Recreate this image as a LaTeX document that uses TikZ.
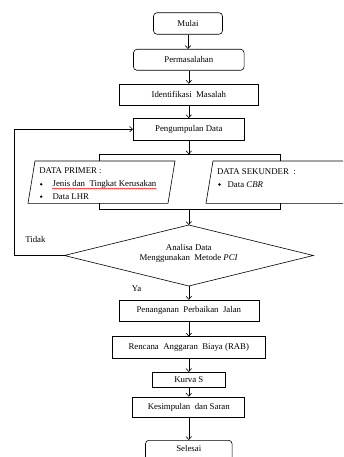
\documentclass[tikz,border=0pt]{standalone}
\usepackage{fontspec}
\setmainfont{Liberation Serif}
\usetikzlibrary{arrows.meta,decorations.pathmorphing}
\newcommand{\dsp}{\hspace{0.5em}}
\begin{document}
\begin{tikzpicture}[x=1pt,y=-1pt,
  line width=0.6pt,
  every node/.style={font=\fontsize{8.8}{10.5}\selectfont, inner sep=0pt},
  box/.style={draw, rectangle, minimum height=21.5pt},
  rbox/.style={box, rounded corners=3.5pt},
  arr/.style={-{Straight Barb[length=3pt,width=5.5pt]}},
  lbl/.style={anchor=west},
  dot/.style={circle, fill, minimum size=2.6pt}
]
\useasboundingbox (0,0) rectangle (343,457);
\clip (0,0) rectangle (343,457);
\fill[white] (0,0) rectangle (343,457);

% main boxes
\node[rbox, minimum width=69pt] (mulai) at (188,23.5) {Mulai};
\node[rbox, minimum width=110.6pt, minimum height=21pt] (perm) at (188.8,59.8) {Permasalahan};
\node[box, minimum width=139pt] (ident) at (188.8,94.7) {Identifikasi\dsp Masalah};
\node[box, minimum width=111pt] (peng) at (188.8,129.2) {Pengumpulan Data};

% parallelograms
\coordinate (pl1) at (35,161); \coordinate (pl2) at (175,161);
\coordinate (pl3) at (168,203.3); \coordinate (pl4) at (28,203.3);
\draw (pl1) -- (pl2) -- (pl3) -- (pl4) -- cycle;
\coordinate (pr1) at (213,161); \coordinate (pr2) at (366,161);
\coordinate (pr3) at (359,203.3); \coordinate (pr4) at (206,203.3);
\draw (pr1) -- (pr2) -- (pr3) -- (pr4) -- cycle;

\node[lbl] (dp) at (39,170.5) {DATA PRIMER :};
\node[dot] (b1) at (41.2,184.3) {};
\node[lbl] (jenis) at (52.3,184.3) {Jenis dan\dsp Tingkat Kerusakan};
\node[dot] (b2) at (41.2,196.7) {};
\node[lbl] (lhr) at (52.3,196.7) {Data LHR};
\draw[red, line width=0.4pt, decorate, decoration={snake, amplitude=0.45pt, segment length=2pt}]
  ([yshift=-2.2pt]jenis.base west) -- ([yshift=-2.2pt]jenis.base east);

\node[lbl] (ds) at (216.7,171.5) {DATA SEKUNDER\dsp :};
\node[dot] (b3) at (219.5,184.5) {};
\node[lbl] (cbr) at (227.3,184.5) {Data \textit{CBR}};

% bracket
\coordinate (bt1) at (99,154.3); \coordinate (bt2) at (280.7,154.3);
\coordinate (bb1) at (99,209.5); \coordinate (bb2) at (280.7,209.5);
\coordinate (btm) at (188.8,154.3); \coordinate (bbm) at (188.8,209.5);
\draw (bt1 |- pl1) -- (bt1) -- (bt2) -- (bt2 |- pr1);
\draw (bb1 |- pl3) -- (bb1) -- (bb2) -- (bb2 |- pr3);

% decision
\coordinate (dtop) at (188.8,225);
\coordinate (dbot) at (188.8,286);
\coordinate (dleft) at (64.3,255.5);
\coordinate (dright) at (313.3,255.5);
\draw (dtop) -- (dright) -- (dbot) -- (dleft) -- cycle;
\node[align=center] (dia) at (188.8,253.7)
  {Analisa Data\\[-0.5pt]Menggunakan\dsp Metode \textit{PCI}};

\node[box, minimum width=140pt] (pen) at (188.8,310.8) {Penanganan\dsp Perbaikan\dsp Jalan};
\node[box, minimum width=152.7pt] (rab) at (188.8,347.5) {Rencana\dsp Anggaran\dsp Biaya (RAB)};
\node[box, minimum width=73pt, minimum height=15pt] (kurva) at (188.8,379.8) {Kurva S};
\node[box, line width=0.9pt, minimum width=112pt, minimum height=20.3pt] (kes) at (188.8,407.2) {Kesimpulan\dsp dan Saran};
\node[rbox, minimum width=86.6pt, minimum height=30pt, anchor=north] (sel) at (188.8,440) {};
\node (seltxt) at (188.8,448.5) {Selesai};

% connectors
\draw[arr] (mulai) -- (mulai |- perm.north);
\draw[arr] (perm) -- (perm |- ident.north);
\draw[arr] (ident) -- (ident |- peng.north);
\draw[arr] (peng) -- (btm);
\draw[arr] (bbm) -- (dtop);
\draw[arr] (dbot) -- (dbot |- pen.north);
\draw[arr] (pen) -- (pen |- rab.north);
\draw[arr] (rab) -- (rab |- kurva.north);
\draw[arr] (kurva) -- (kurva |- kes.north);
\draw[arr] (kes) -- (kes |- sel.north);

\coordinate (lc) at (14.3,255.5);
\draw[arr] (dleft) -- (lc) |- (peng.west);

\node[lbl] (tidak) at (25,239) {Tidak};
\node[lbl] (ya) at (131.5,288.5) {Ya};
\end{tikzpicture}
\end{document}
